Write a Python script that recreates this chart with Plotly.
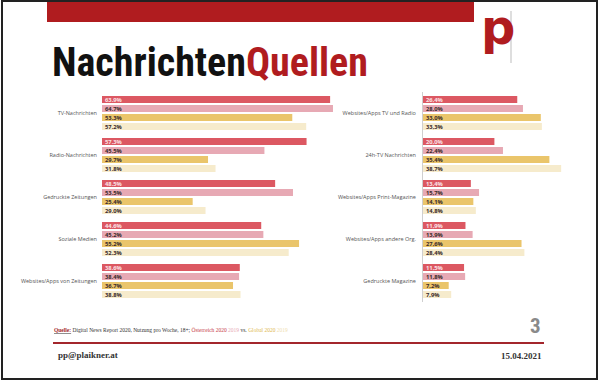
import plotly.graph_objects as go

W, H = 600, 383

# ---- data ----
left_categories = ["TV-Nachrichten", "Radio-Nachrichten", "Gedruckte Zeitungen",
                   "Soziale Medien", "Websites/Apps von Zeitungen"]
left_at_2020 = [63.9, 57.3, 48.5, 44.6, 38.6]
left_at_2019 = [64.7, 45.5, 53.5, 45.2, 38.4]
left_gl_2020 = [53.3, 29.7, 25.4, 55.2, 36.7]
left_gl_2019 = [57.2, 31.8, 29.0, 52.3, 38.8]

right_categories = ["Websites/Apps TV und Radio", "24h-TV Nachrichten",
                    "Websites/Apps Print-Magazine", "Websites/Apps andere Org.",
                    "Gedruckte Magazine"]
right_at_2020 = [26.4, 20.0, 13.4, 11.9, 11.5]
right_at_2019 = [28.0, 22.4, 15.7, 13.9, 11.8]
right_gl_2020 = [33.0, 35.4, 14.1, 27.6, 7.2]
right_gl_2019 = [33.3, 38.7, 14.8, 28.4, 7.9]

series_names = ["Österreich 2020", "Österreich 2019", "Global 2020", "Global 2019"]
colors = ["#dc5862", "#e7a9b4", "#eac56b", "#f6ebcc"]
text_colors = ["#fbe3e6", "#3a2a2a", "#3a2a2a", "#3a2a2a"]


def px_x(p):
    return p / W


def px_y(p):
    return 1 - p / H


fig = go.Figure()

left_series = [left_at_2020, left_at_2019, left_gl_2020, left_gl_2019]
right_series = [right_at_2020, right_at_2019, right_gl_2020, right_gl_2019]

for i, vals in enumerate(left_series):
    fig.add_trace(go.Bar(
        y=left_categories, x=vals, orientation="h", name=series_names[i],
        marker=dict(color=colors[i], line=dict(width=0)),
        text=[f"{v:.1f}%" for v in vals],
        textposition="inside", insidetextanchor="start", textangle=0,
        constraintext="none",
        textfont=dict(size=5.8, color=text_colors[i], family="Open Sans", weight=700),
        xaxis="x", yaxis="y", showlegend=False, hoverinfo="skip"))

for i, vals in enumerate(right_series):
    fig.add_trace(go.Bar(
        y=right_categories, x=vals, orientation="h", name=series_names[i],
        marker=dict(color=colors[i], line=dict(width=0)),
        text=[f"{v:.1f}%".replace(".", ",") for v in vals],
        textposition="inside", insidetextanchor="start", textangle=0,
        constraintext="none",
        textfont=dict(size=5.8, color=text_colors[i], family="Open Sans", weight=700),
        xaxis="x2", yaxis="y2", showlegend=False, hoverinfo="skip"))

ydom = [px_y(302), px_y(92)]
scale = 3.57  # px per percent

fig.update_layout(
    width=W, height=H, margin=dict(l=0, r=0, t=0, b=0),
    paper_bgcolor="white", plot_bgcolor="rgba(0,0,0,0)",
    barmode="group", bargap=0.143, bargroupgap=0.22,
    xaxis=dict(domain=[px_x(102), px_x(102 + 70 * scale)], range=[0, 70],
               visible=False, fixedrange=True),
    yaxis=dict(domain=ydom, autorange="reversed", showgrid=False, zeroline=False,
               showline=False, ticks="", ticklabelstandoff=4, automargin=False,
               tickfont=dict(size=5.5, color="#555555", family="Open Sans")),
    xaxis2=dict(domain=[px_x(423), px_x(423 + 45 * scale)], range=[0, 45],
                visible=False, fixedrange=True),
    yaxis2=dict(domain=ydom, anchor="x2", autorange="reversed", showgrid=False,
                zeroline=False, showline=True, linecolor="#cfcfcf", linewidth=1,
                ticks="", ticklabelstandoff=5, automargin=False,
                tickfont=dict(size=5.5, color="#555555", family="Open Sans")),
)

shapes = [
    # outer frame
    dict(type="rect", xref="paper", yref="paper", x0=px_x(2), x1=px_x(597),
         y0=px_y(379), y1=px_y(1), line=dict(color="#222222", width=2)),
    # top red band
    dict(type="rect", xref="paper", yref="paper", x0=px_x(47), x1=px_x(474),
         y0=px_y(22), y1=px_y(2), fillcolor="#b01c1f", line=dict(width=0)),
    # grey line next to logo
    dict(type="line", xref="paper", yref="paper", x0=px_x(511), x1=px_x(511),
         y0=px_y(63), y1=px_y(11), line=dict(color="#bdbdbd", width=1)),
    # footer red line
    dict(type="line", xref="paper", yref="paper", x0=px_x(53), x1=px_x(544),
         y0=px_y(343), y1=px_y(343), line=dict(color="#a3262c", width=2)),
]
fig.update_layout(shapes=shapes)

annotations = [
    dict(text="Nachrichten<span style='color:#b01c1f'>Quellen</span>",
         xref="paper", yref="paper", x=px_x(50), y=px_y(62), xanchor="left",
         yanchor="middle", showarrow=False,
         font=dict(size=40, color="#111111", weight=700, family="Roboto Condensed")),
    dict(text="p", xref="paper", yref="paper", x=px_x(498), y=px_y(27),
         xanchor="center", yanchor="middle", showarrow=False,
         font=dict(size=48, color="#b01c1f", weight=700, family="DejaVu Sans")),
    dict(text="<b><u><span style='color:#a3262c'>Quelle:</span></u></b> Digital News Report 2020, "
              "Nutzung pro Woche, 18+; <span style='color:#c8404a'>Österreich 2020</span> "
              "<span style='color:#e7a9b4'>2019</span> vs. "
              "<span style='color:#e0b850'>Global 2020</span> "
              "<span style='color:#efe0b0'>2019</span>",
         xref="paper", yref="paper", x=px_x(52), y=px_y(330), xanchor="left",
         yanchor="middle", showarrow=False,
         font=dict(size=5.5, color="#333333", family="Liberation Serif, serif")),
    dict(text="3", xref="paper", yref="paper", x=px_x(543), y=px_y(326),
         xanchor="right", yanchor="middle", showarrow=False,
         font=dict(size=21, color="#8a8a8a", weight=700, family="Roboto Condensed")),
    dict(text="<b>pp@plaikner.at</b>", xref="paper", yref="paper", x=px_x(56),
         y=px_y(355), xanchor="left", yanchor="middle", showarrow=False,
         font=dict(size=9, color="#333333", family="Liberation Serif, serif")),
    dict(text="<b>15.04.2021</b>", xref="paper", yref="paper", x=px_x(544),
         y=px_y(356), xanchor="right", yanchor="middle", showarrow=False,
         font=dict(size=9, color="#333333", family="Liberation Serif, serif")),
]
fig.update_layout(annotations=annotations)

fig.write_html("out.html", config={"displayModeBar": False},
               post_script="document.body.style.margin='0';")
